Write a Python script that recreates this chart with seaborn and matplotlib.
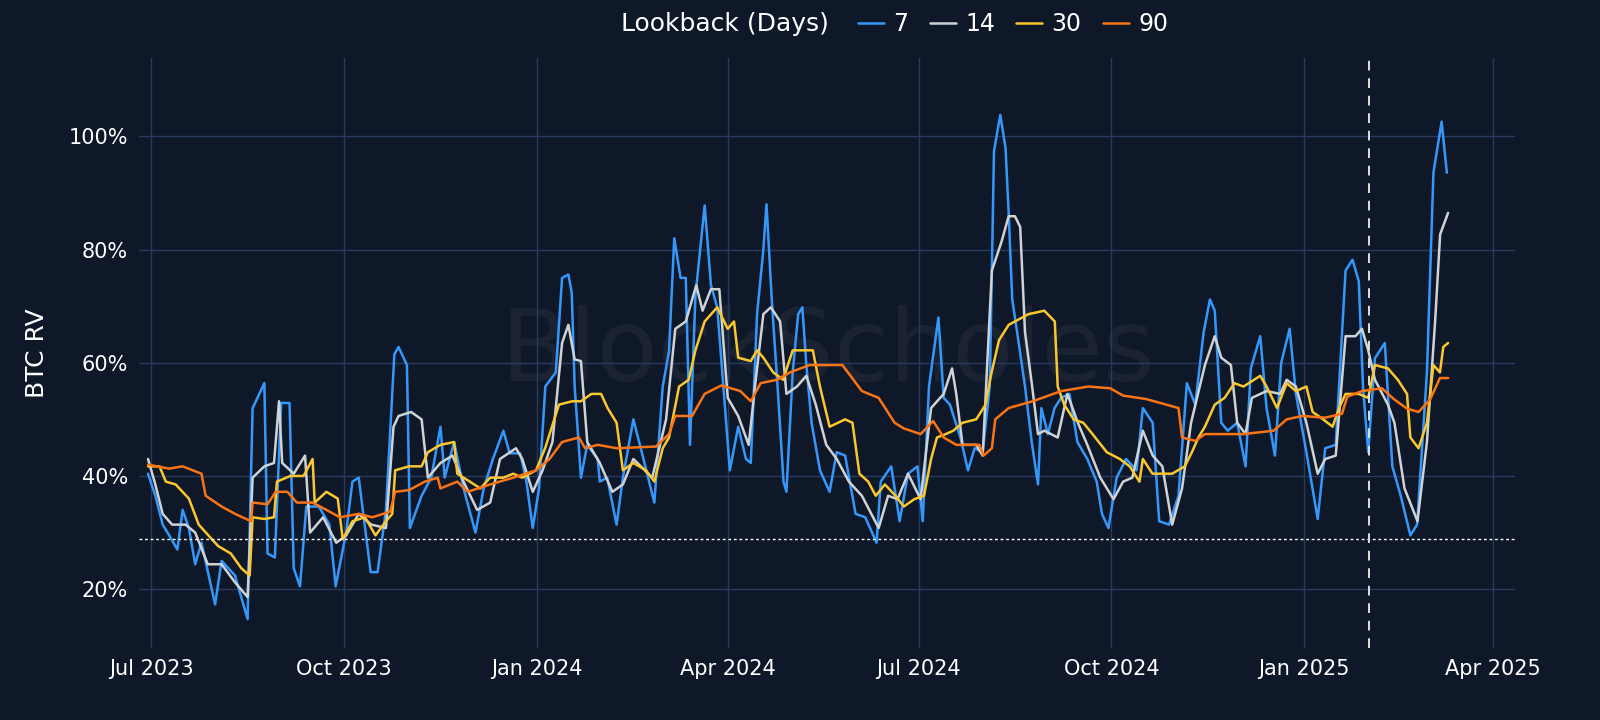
import pandas as pd
import numpy as np
import matplotlib
matplotlib.use('Agg')
import matplotlib.pyplot as plt
import seaborn as sns

# valores: dia desde 2023-07-01 y RV en %
start = pd.Timestamp('2023-07-01')

d7 = [-1.5, 2, 5.5, 8.6, 12.5, 15, 18, 21, 24, 30.5, 33.6, 40, 46, 48.4, 54, 55.5, 59, 62, 66, 68, 71, 74, 80, 85, 88,
      93, 96, 99, 104.7, 108, 112, 116, 118, 122, 123.4, 129, 133.6, 138, 140, 144.5, 149, 154.7, 158.6, 163, 168, 171,
      176, 179, 182, 185, 188, 193, 196, 199, 200.6, 202, 205, 208, 213, 214, 217.5, 222, 225, 230, 234, 240, 244, 247,
      249.5, 252.5, 255, 257, 259.6, 264, 267, 270, 276, 280, 283.7, 286, 289, 292, 293.5, 296, 299, 301.6, 303, 306,
      308.6, 310.6, 312.5, 315, 319, 323.6, 327, 331, 336, 340.6, 346, 348, 353, 357, 361, 365.5, 368, 371, 375.5, 378,
      381, 386, 389.6, 392.8, 396.6, 400, 402, 405, 407.5, 409, 410.7, 413.8, 416.8, 420, 423, 424.6, 427.7, 430.9, 434,
      438, 441.8, 446.5, 451, 453.5, 456.6, 460.5, 465, 470, 473, 477.7, 480.8, 485.5, 490, 494, 498, 502, 505, 507.3,
      510.4, 513.5, 518, 522, 524.5, 529, 532, 536, 539, 543, 546, 551, 556.4, 560, 565, 569.7, 573, 576, 578, 580.5,
      583.7, 588.4, 592, 596, 600.6, 603.8, 608.5, 611.6, 615.5, 618]
v7 = [40.4, 36.5, 31.4, 29.5, 27, 34, 30.8, 24.4, 28.2, 17.3, 25, 22.4, 14.7, 52, 56.4, 26.3, 25.6, 52.9, 52.9, 23.7,
      20.5, 34.6, 34.6, 31.4, 20.5, 30, 39, 39.7, 23, 23, 34, 61.5, 62.8, 59.6, 30.8, 36.5, 39.7, 48.7, 39.7, 46, 37.8,
      30, 37.8, 43, 48, 44, 44, 39, 30.8, 37.8, 55.8, 58.3, 75, 75.6, 72.4, 55.8, 39.7, 45.5, 43, 39, 39.7, 31.4, 39.7,
      50, 44.2, 35.3, 55.8, 62, 82, 75, 75, 45.5, 71.8, 87.8, 73.7, 69.8, 41, 48.7, 43, 42.3, 68.6, 80, 88, 71.2, 54.5,
      39, 37.2, 58.3, 68.6, 69.8, 59.6, 49.4, 41, 37.2, 44.2, 43.6, 33.3, 32.7, 28.2, 39, 41.7, 32, 40.4, 41.7, 32, 55.8,
      68, 53.8, 52.6, 46.8, 41, 44.9, 44.2, 55.8, 97.4, 103.8, 98, 86.5, 71.2, 63.5, 55.8, 46, 38.5, 52, 47.4, 52, 53.8,
      54.5, 46, 43, 39, 33.3, 30.8, 39.7, 43, 41, 52, 49.4, 32, 31.4, 36.5, 56.4, 52.6, 65.4, 71.2, 69.2, 49.4, 48, 49.4,
      41.7, 59, 64.7, 52, 43.6, 60, 66, 54.5, 44.2, 32.4, 44.9, 45.5, 76.3, 78.2, 74.4, 55.8, 44.2, 60.8, 63.5, 41.7,
      36.5, 29.5, 31.4, 58.3, 93.6, 102.6, 93.6]

d14 = [-1.5, 2, 5.5, 10, 16.4, 21, 27, 33.6, 40, 46, 48.4, 54, 58.6, 61, 62.5, 68, 73.4, 75.8, 82, 88.3, 93, 99, 105,
       112, 115.6, 118, 124, 129, 132, 138, 143.7, 149, 155.5, 161.7, 166.4, 174, 177, 182, 186.7, 191.4, 196, 199, 202,
       205, 208, 214, 220, 225, 230, 239, 245.6, 250, 255, 260, 263, 267, 271, 275, 280, 285, 288, 292, 295.6, 300, 303,
       308, 312.5, 317, 322, 327, 332.8, 339, 347, 351.5, 356, 361, 367, 372, 378, 382, 384, 387, 393.5, 396.6, 401,
       405.6, 409, 412, 414.5, 416.8, 420, 423, 426, 432.4, 437, 442, 446.5, 452.7, 459, 463.6, 468, 473, 477.7, 482.3,
       487, 491.7, 496, 502.6, 507.3, 510.4, 515, 518, 522, 525, 532, 538.5, 541.6, 546, 551, 556.4, 560, 565, 569.7,
       574.4, 577.5, 580.5, 583.7, 589.9, 593, 597.8, 604, 608.5, 612.4, 614.8, 618.6]
v14 = [43, 38.5, 33.3, 31.4, 31.4, 30, 24.4, 24.4, 21.2, 18.6, 39.7, 41.7, 42.3, 53.2, 42.3, 40.4, 43.6, 30, 32.7, 28.2,
       29.5, 33.3, 31.4, 30.8, 48.7, 50.6, 51.3, 50, 39.7, 42.3, 43.6, 39, 34, 35.3, 43, 44.9, 43, 37.2, 41, 46, 63.5,
       66.7, 60.6, 60.3, 46, 42.3, 37.2, 38.5, 43, 39.7, 50, 66, 67.3, 73.7, 69.2, 73, 73, 53.8, 50.6, 45.5, 55.8, 68.6,
       69.8, 67.3, 54.5, 55.8, 57.7, 52.6, 45.5, 43, 39, 36.5, 30.8, 36.5, 35.9, 40.4, 35.9, 52, 54.5, 59, 54.5, 45.5,
       45.5, 43.6, 76.3, 81.4, 85.9, 85.9, 84, 65.4, 56.4, 47.4, 48, 46.8, 54.5, 49.4, 45.5, 39.7, 35.9, 39, 39.7, 48,
       43.6, 41.7, 31.4, 37.8, 49.4, 59.6, 64.7, 60.9, 59.6, 49.4, 47.4, 53.8, 55, 54.5, 57, 55.8, 49.4, 40.4, 43, 43.6,
       64.7, 64.7, 66, 62.2, 57, 52.6, 49.4, 37.8, 32, 46, 67.3, 82.7, 86.5]

d30 = [-1.5, 4, 7, 11.7, 15, 18, 22.7, 29, 32, 38, 43, 47, 48.4, 54, 58.6, 60, 66.4, 72.7, 77, 78, 83.6, 89, 91.4, 96,
       102, 107, 112, 115, 116.4, 123, 129, 132, 138, 144.5, 146, 152, 157, 161.7, 168, 172.7, 177, 183.6, 188, 194.5,
       200.8, 205, 210, 214.6, 217.7, 222, 225, 230, 236, 240, 244, 247, 251.8, 256.4, 259.6, 264, 270, 275, 278, 280,
       286, 289, 292, 296.7, 301.4, 306, 315.6, 319, 323.6, 331, 334.5, 337.8, 342, 345.6, 350, 355, 359, 364, 368.6,
       372, 374.8, 379, 382.6, 387, 393.5, 398, 400.5, 404.4, 409, 418.5, 426, 431, 432.4, 435.5, 440, 444.6, 449, 455.8,
       462, 466.7, 471.4, 473, 477.6, 487, 493, 496.4, 499.5, 502.6, 507.3, 512, 516.7, 521, 529, 532, 537, 541.6, 546,
       551, 554, 559, 563.5, 566.6, 569.7, 576, 580.5, 583.7, 589.9, 594.6, 599, 600.6, 604.5, 608.5, 611.6, 614.7,
       616.3, 618.6]
v30 = [41.7, 41.7, 39, 38.5, 37.2, 36, 31.4, 28.8, 27.6, 26.3, 23.7, 22.4, 32.7, 32.4, 32.7, 39, 40, 40, 43, 35.3, 37.2,
       36, 28.8, 32, 32.7, 29.5, 32, 33.3, 41, 41.7, 41.7, 44.2, 45.5, 46, 40.4, 39, 37.8, 39.7, 39.7, 40.4, 39.7, 41,
       45, 52.6, 53.2, 53.2, 54.5, 54.5, 52, 49.4, 41, 42.3, 41, 39, 44.9, 46.8, 55.8, 57, 62.2, 67.3, 69.8, 66, 67.3,
       60.9, 60.3, 62.2, 60.9, 58.3, 57, 62.2, 62.2, 55.8, 48.7, 50, 49.4, 40.4, 39, 36.5, 38.5, 36.5, 34.6, 35.9, 36.5,
       43, 46.8, 47.4, 48, 49.4, 50, 52.6, 57.7, 64, 66.7, 68.6, 69.2, 67.3, 55.8, 52.6, 50, 49.4, 47.4, 44.2, 43, 41.7,
       39, 43, 40.4, 40.4, 41.7, 44.2, 46.8, 48.7, 52.6, 53.8, 56.4, 55.8, 57.7, 55.8, 52, 56.4, 55, 55.8, 51.3, 50, 48.7,
       52, 54.5, 54.5, 53.8, 59.6, 59, 57, 54.5, 46.8, 44.9, 49.4, 59.6, 58.3, 62.8, 63.5]

d90 = [-1.5, 8.6, 15, 24, 26, 33.6, 40, 47.7, 48.4, 55.5, 59.4, 65, 69.5, 77, 83.6, 90, 99, 105.5, 114, 116.4, 123,
       130.5, 136.7, 138, 146, 151, 161.7, 172.7, 183.6, 190, 196, 204, 207, 213, 222, 240.8, 247, 250, 258, 264, 272,
       281, 286, 290.7, 298.5, 304.7, 314, 329.7, 339, 347, 354.6, 359, 367, 373, 378, 384, 395, 397, 401, 402.6, 409,
       420.5, 434, 447, 457.4, 463.6, 474.5, 490, 491.7, 498, 502.6, 521, 535.4, 541.6, 549, 560, 568, 570.5, 577.5, 587,
       593, 599, 604.5, 610, 614.7, 618.6]
v90 = [42, 41.3, 41.7, 40.4, 36.5, 34.6, 33.3, 32, 35.3, 35, 37.2, 37.2, 35.3, 35.3, 34, 32.7, 33.3, 32.7, 33.7, 37.2,
       37.5, 39, 39.7, 37.8, 39, 37.2, 38.5, 39.7, 41, 43, 46, 46.8, 44.9, 45.5, 44.9, 45.2, 47.4, 50.6, 50.6, 54.5, 56,
       55, 53.2, 56.4, 57, 58.3, 59.6, 59.6, 55, 53.8, 49.4, 48.4, 47.4, 49.7, 46.8, 45.5, 45.5, 43.6, 44.9, 50, 52,
       53.2, 55, 55.8, 55.5, 54.2, 53.6, 52, 46.8, 46.2, 47.4, 47.4, 48, 50, 50.6, 50.3, 51, 54, 55, 55.5, 53.5, 51.9,
       51.3, 53.5, 57.3, 57.3]

lookbacks = ['7', '14', '30', '90']
colores = ['#3498fb', '#cfd3d6', '#fbc72e', '#fb7414']
piso = 28.8
linea_vertical = '2025-02-01'

frames = []
for nombre, dias, valores in zip(lookbacks, [d7, d14, d30, d90], [v7, v14, v30, v90]):
    frames.append(pd.DataFrame({'fecha': start + pd.to_timedelta(dias, unit='D'),
                                'rv': valores, 'lookback': nombre}))
df = pd.concat(frames, ignore_index=True)

bg = '#0f1829'
grid = '#283a5e'
sns.set_theme(style='darkgrid')
plt.rcParams['font.family'] = ['DejaVu Sans']

fig = plt.figure(figsize=(16, 7.2), dpi=100, facecolor=bg)
ax = fig.add_axes([0.087, 0.1, 0.86, 0.819])
ax.set_facecolor(bg)

sns.lineplot(data=df, x='fecha', y='rv', hue='lookback', hue_order=lookbacks,
             palette=colores, estimator=None, sort=False, linewidth=1.8, ax=ax)

ax.axhline(piso, color='white', linestyle=(0, (2, 2)), linewidth=1)
ax.axvline(pd.Timestamp(linea_vertical), color='#e0e0e0', linestyle=(0, (5, 4)), linewidth=1.4)

ax.set_xlim(start - pd.Timedelta(days=5.7), start + pd.Timedelta(days=650.6))
ax.set_ylim(9.6, 113.8)
ax.set_yticks([20, 40, 60, 80, 100])
ax.set_yticklabels(['20%', '40%', '60%', '80%', '100%'])
xt = pd.to_datetime(['2023-07-01', '2023-10-01', '2024-01-01', '2024-04-01', '2024-07-01',
                     '2024-10-01', '2025-01-01', '2025-04-01'])
ax.set_xticks(xt)
ax.set_xticklabels([t.strftime('%b %Y') for t in xt])
ax.grid(True, color=grid, linewidth=1)
for s in ax.spines.values():
    s.set_visible(False)
ax.tick_params(colors='white', labelsize=15, length=0, pad=8)
ax.set_xlabel('')
ax.set_ylabel('BTC RV', color='white', fontsize=18, labelpad=14)

ax.text(0.5, 0.5, 'BlockScholes', transform=ax.transAxes, fontsize=72, color='white',
        alpha=0.05, ha='center', va='center', zorder=0)

h, l = ax.get_legend_handles_labels()
ax.legend_.remove()
fig.text(0.518, 0.966, 'Lookback (Days)', color='white', fontsize=18, ha='right', va='center')
fig.legend(h, l, loc='center left', bbox_to_anchor=(0.523, 0.966), ncol=4, frameon=False,
           handlelength=1.1, columnspacing=0.9, handletextpad=0.4, labelcolor='white', fontsize=17)

fig.savefig('out.png', dpi=100, facecolor=bg)
